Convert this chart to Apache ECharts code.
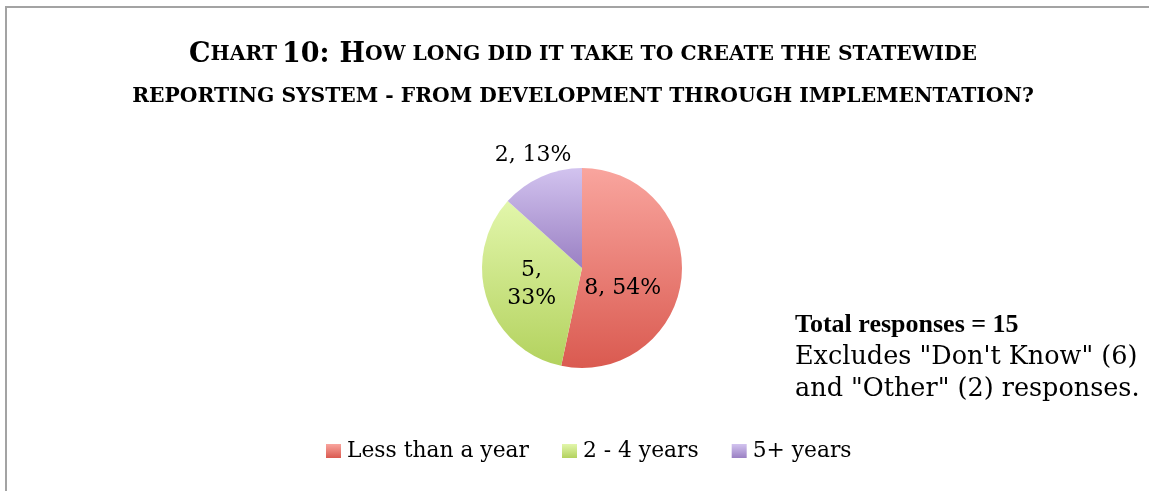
<!DOCTYPE html>
<html>
<head>
<meta charset="utf-8">
<script src="https://cdn.jsdelivr.net/npm/echarts@6/dist/echarts.min.js"></script>
<style>
  html, body { margin: 0; padding: 0; background: #fff; }
  #chart { width: 1149px; height: 491px; }
</style>
</head>
<body>
<div id="chart"></div>
<script>
// Survey answers: time to build the statewide reporting system
const categories = ['Less than a year', '2 - 4 years', '5+ years'];
const responses = [8, 5, 2];
const shownPercents = [54, 33, 13];
const totalResponses = 15;

const palette = [
  ['#f9a59e', '#da5a50'],
  ['#e2f6ab', '#b3d25e'],
  ['#d2c3ef', '#9a80c3']
];
const serif = '"DejaVu Serif", "Liberation Serif", serif';
const boldSerif = '"Liberation Serif", "DejaVu Serif", serif';

function grad(pair) {
  return {
    type: 'linear', x: 0, y: 0, x2: 0, y2: 1,
    colorStops: [{ offset: 0, color: pair[0] }, { offset: 1, color: pair[1] }]
  };
}

const pieData = categories.map((name, i) => {
  const item = { name, value: responses[i], itemStyle: { color: grad(palette[i]) } };
  if (i === 2) {
    item.label = { position: 'outside' };
    item.labelLine = { show: false, length: 8, length2: 0 };
  }
  return item;
});

const chart = echarts.init(document.getElementById('chart'), null, { renderer: 'canvas' });
chart.setOption({
  backgroundColor: '#ffffff',
  animation: false,
  graphic: [{
    type: 'rect',
    shape: { x: 6, y: 7, width: 1300, height: 700 },
    style: { fill: 'none', stroke: '#a3a3a3', lineWidth: 2 },
    silent: true
  }],
  title: [{
    left: 578,
    top: 29,
    textAlign: 'center',
    text: '{b|C}{s|HART} {b|10:}  {b|H}{s|OW LONG DID IT TAKE TO CREATE THE STATEWIDE}\n' +
          '{s|REPORTING SYSTEM - FROM DEVELOPMENT THROUGH IMPLEMENTATION?}',
    textStyle: {
      rich: {
        b: { fontFamily: serif, fontWeight: 'bold', fontSize: 27, color: '#000', lineHeight: 42 },
        s: { fontFamily: serif, fontWeight: 'bold', fontSize: 20.3, color: '#000', lineHeight: 42 }
      }
    }
  }, {
    left: 790,
    top: 304,
    text: '{b|Total responses = ' + totalResponses + '}\n' +
          '{r|Excludes "Don\'t Know" (6)}\n' +
          '{r|and "Other" (2) responses.}',
    textStyle: {
      fontWeight: 'normal',
      rich: {
        b: { fontFamily: boldSerif, fontWeight: 'bold', fontSize: 26, color: '#000', lineHeight: 32 },
        r: { fontFamily: serif, fontWeight: 'normal', fontSize: 25.5, color: '#000', lineHeight: 32 }
      }
    }
  }],
  legend: {
    left: 326,
    top: 440,
    padding: 0,
    icon: 'rect',
    itemWidth: 15,
    itemHeight: 14,
    itemGap: 33,
    textStyle: { fontFamily: serif, fontSize: 21.8, color: '#000', padding: [0, 0, 0, 1] },
    data: categories
  },
  series: [{
    type: 'pie',
    center: [582, 268],
    radius: 100,
    startAngle: 90,
    clockwise: true,
    avoidLabelOverlap: false,
    itemStyle: { borderWidth: 0 },
    label: {
      show: true,
      position: 'inside',
      fontFamily: serif,
      fontSize: 22,
      color: '#000',
      lineHeight: 28,
      formatter: function (p) {
        const sep = p.dataIndex === 1 ? ',\n' : ', ';
        return p.value + sep + shownPercents[p.dataIndex] + '%';
      }
    },
    labelLayout: function (params) {
      if (params.dataIndex === 2) {
        return { align: 'center', verticalAlign: 'bottom' };
      }
      if (params.dataIndex === 0) {
        return { dx: -12, dy: 15 };
      }
    },
    data: pieData
  }]
});
</script>
</body>
</html>
